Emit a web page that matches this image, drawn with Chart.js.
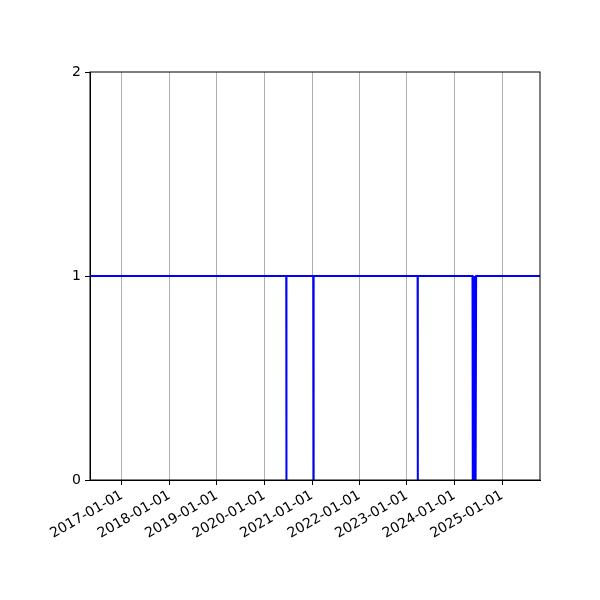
<!DOCTYPE html>
<html>
<head>
<meta charset="utf-8">
<script src="https://cdn.jsdelivr.net/npm/chart.js@4/dist/chart.umd.min.js"></script>
<style>
  html, body { margin: 0; padding: 0; background: #fff; }
  #wrap { width: 600px; height: 600px; }
</style>
</head>
<body>
<div id="wrap"><canvas id="statusChart" width="600" height="600"></canvas></div>
<script>
// Status series (1 = up, 0 = down)
const pointDates = [
    '2016-04-30',
    '2020-06-17', '2020-06-18', '2020-06-19',
    '2021-01-11', '2021-01-12', '2021-01-13', '2021-01-14', '2021-01-15',
    '2023-03-24', '2023-03-25', '2023-03-26',
    '2024-05-19', '2024-05-21', '2024-05-23', '2024-05-25', '2024-05-27', '2024-05-29',
    '2024-05-31', '2024-06-02', '2024-06-04', '2024-06-06', '2024-06-08', '2024-06-10',
    '2024-06-12', '2024-06-14', '2024-06-16',
    '2025-10-20'
];
const pointValues = [
    1,
    1, 0, 1,
    1, 0, 1, 0, 1,
    1, 0, 1,
    1, 0, 1, 0, 1, 0,
    1, 0, 1, 0, 1, 0,
    1, 0, 1,
    1
];

const xMinDate = '2016-04-30';
const xMaxDate = '2025-10-20';
const xTickDates = [
    '2017-01-01', '2018-01-01', '2019-01-01', '2020-01-01', '2021-01-01',
    '2022-01-01', '2023-01-01', '2024-01-01', '2025-01-01'
];
const yTicks = [0, 1, 2];

const points = pointDates.map((d, i) => ({ x: Date.parse(d), y: pointValues[i] }));

// draw the closed box round the plot, like the matplotlib spines
const frame = {
    id: 'frame',
    afterDraw(chart) {
        const a = chart.chartArea;
        const c = chart.ctx;
        c.save();
        c.strokeStyle = '#000';
        c.lineWidth = 1;
        c.strokeRect(a.left, a.top, a.right - a.left, a.bottom - a.top);
        c.restore();
    }
};

const ctx = document.getElementById('statusChart').getContext('2d');
new Chart(ctx, {
    type: 'line',
    data: {
        datasets: [{
            data: points,
            borderColor: '#0000ff',
            borderWidth: 2,
            pointRadius: 0,
            tension: 0,
            fill: false
        }]
    },
    options: {
        responsive: false,
        animation: false,
        layout: { padding: { top: 72, right: 60, left: 0, bottom: 0 } },
        plugins: { legend: { display: false }, tooltip: { enabled: false } },
        scales: {
            x: {
                type: 'linear',
                min: Date.parse(xMinDate),
                max: Date.parse(xMaxDate),
                afterBuildTicks: (scale) => {
                    scale.ticks = xTickDates.map(d => ({ value: Date.parse(d) }));
                },
                afterFit: (scale) => { scale.height = 120; },
                ticks: {
                    autoSkip: false,
                    minRotation: 30,
                    maxRotation: 30,
                    padding: 2,
                    color: '#000',
                    font: { family: 'DejaVu Sans', size: 14 },
                    callback: (value) => new Date(value).toISOString().slice(0, 10)
                },
                grid: { color: '#b0b0b0', lineWidth: 1, tickColor: '#000', tickLength: 5 },
                border: { color: '#000' }
            },
            y: {
                min: 0,
                max: 2,
                afterBuildTicks: (scale) => {
                    scale.ticks = yTicks.map(v => ({ value: v }));
                },
                afterFit: (scale) => { scale.width = 90; },
                ticks: {
                    padding: 4,
                    color: '#000',
                    font: { family: 'DejaVu Sans', size: 14 }
                },
                grid: { drawOnChartArea: false, tickColor: '#000', tickLength: 5 },
                border: { color: '#000' }
            }
        }
    },
    plugins: [frame]
});
</script>
</body>
</html>
